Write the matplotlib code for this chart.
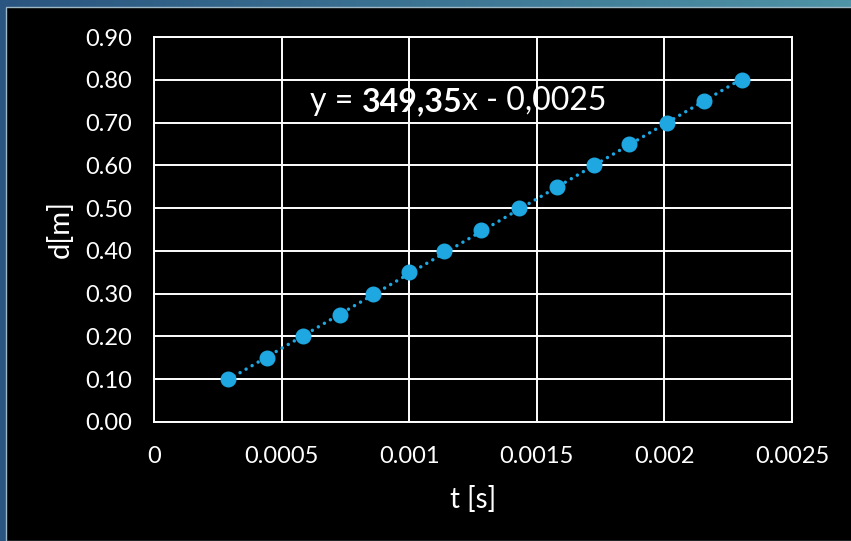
import numpy as np
import matplotlib
matplotlib.use("Agg")
import matplotlib.pyplot as plt

plt.rcParams["font.family"] = ["Lato", "DejaVu Sans"]

# ==================== 数据 ====================
t_s = [0.00029, 0.000443, 0.000584, 0.000729, 0.000858, 0.000999, 0.001136,
       0.001281, 0.00143, 0.001579, 0.001724, 0.001861, 0.00201, 0.002155, 0.002304]
d_m = [0.10, 0.15, 0.20, 0.25, 0.30, 0.35, 0.40, 0.45, 0.50, 0.55, 0.60,
       0.65, 0.70, 0.75, 0.80]
slope, intercept = 349.35, -0.0025
x_ticks = [0, 0.0005, 0.001, 0.0015, 0.002, 0.0025]
x_tick_labels = ["0", "0.0005", "0.001", "0.0015", "0.002", "0.0025"]
y_ticks = np.arange(0, 0.91, 0.1)

BLUE = "#1EA7E1"

fig = plt.figure(figsize=(8.51, 5.41), dpi=100)

# 背景渐变边框
bg = fig.add_axes([0, 0, 1, 1], zorder=-10)
grad = np.linspace(0, 1, 256)[None, :]
cmap = matplotlib.colors.LinearSegmentedColormap.from_list("g", ["#2A5580", "#4E93A6"])
bg.imshow(grad, aspect="auto", cmap=cmap, extent=[0, 1, 0, 1])
bg.add_patch(plt.Rectangle((6 / 851, 0), 1, 1 - 7 / 541, facecolor="black",
                           edgecolor="#9FB8C8", linewidth=1))
bg.set_xlim(0, 1)
bg.set_ylim(0, 1)
bg.axis("off")

ax = fig.add_axes([154 / 851, 1 - 422 / 541, 638 / 851, 385 / 541])
ax.set_facecolor("black")

# 趋势线
xt = np.array([min(t_s), max(t_s)])
ax.plot(xt, slope * xt + intercept, color=BLUE, lw=2.5, linestyle=(0, (0.01, 2)),
        dash_capstyle="round", zorder=3)
ax.plot(t_s, d_m, "o", color=BLUE, markersize=10.5, zorder=4)

ax.set_xlim(0, 0.0025)
ax.set_ylim(0, 0.9)
ax.set_xticks(x_ticks)
ax.set_xticklabels(x_tick_labels)
ax.set_yticks(y_ticks)
ax.set_yticklabels([f"{v:.2f}" for v in y_ticks])
ax.tick_params(colors="white", labelsize=17, length=0)
ax.tick_params(axis="x", pad=17)
ax.tick_params(axis="y", pad=16)
ax.grid(True, color="white", lw=1.4)
ax.set_axisbelow(False)
for s in ax.spines.values():
    s.set_color("white")
    s.set_linewidth(1.4)

ax.set_xlabel("t [s]", color="white", fontsize=20, labelpad=14)
ax.set_ylabel("d[m]", color="white", fontsize=21, labelpad=8)

# 拟合方程
t1 = ax.text(0.2445, 0.834, "y = ", transform=ax.transAxes, color="white",
             fontsize=23, va="center", ha="left", zorder=1)
t2 = ax.annotate("349,35", xy=(1, 0), xycoords=t1, va="bottom", ha="left",
                 color="white", fontsize=23, fontweight="bold", zorder=1)
t3 = ax.annotate("x - 0,0025", xy=(1, 0), xycoords=t2, va="bottom", ha="left",
                 color="white", fontsize=23, zorder=1)

fig.savefig("out.png", dpi=100, facecolor=fig.get_facecolor())
